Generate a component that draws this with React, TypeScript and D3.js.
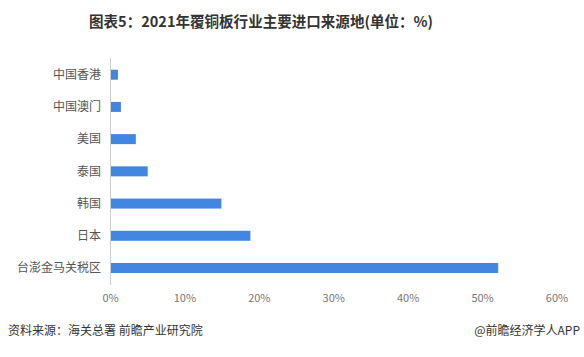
import React from "react";
import * as d3 from "d3";

const categories = ["中国香港", "中国澳门", "美国", "泰国", "韩国", "日本", "台澎金马关税区"];
const values = [1.0, 1.4, 3.4, 5.0, 14.9, 18.8, 52.1];
const xTicks = [0, 10, 20, 30, 40, 50, 60];
const title = "图表5：2021年覆铜板行业主要进口来源地(单位：%)";
const sourceText = "资料来源：海关总署 前瞻产业研究院";
const brandText = "@前瞻经济学人APP";

export default function App() {
  const W = 584, H = 357;
  const x = d3.scaleLinear().domain([0, 60]).range([110.5, 557]);
  const y = d3.scaleBand().domain(categories).range([58.6, 284.1]).paddingInner(0.69).paddingOuter(0.345);
  const font = "'Microsoft YaHei','Noto Sans CJK SC',sans-serif";
  return (
    <svg width={W} height={H} style={{ position: "absolute", left: 0, top: 0, background: "#fff" }}>
      <text x={89} y={27} textLength={344} lengthAdjust="spacingAndGlyphs" fontSize={14.5} fontWeight="bold" fill="#333" fontFamily={font}>{title}</text>
      <line x1={110.5} x2={110.5} y1={58} y2={285} stroke="#ccc" strokeWidth={1} />
      {categories.map((c, i) => (
        <g key={c}>
          <rect x={x(0) + 0.5} y={y(c)!} width={x(values[i]) - x(0) - 0.5} height={y.bandwidth()} fill="#4186E0" />
          <text x={101} y={y(c)! + y.bandwidth() / 2} dy="0.35em" textAnchor="end" fontSize={12} fill="#555" fontFamily={font}>{c}</text>
        </g>
      ))}
      {xTicks.map((t) => (
        <text key={t} x={x(t)} y={302} textAnchor="middle" fontSize={11} fill="#777" fontFamily={font}>{t}%</text>
      ))}
      <text x={8} y={335} fontSize={12} fill="#333" fontFamily={font}>{sourceText}</text>
      <text x={580} y={335} textAnchor="end" fontSize={12} fill="#333" fontFamily={font}>{brandText}</text>
    </svg>
  );
}
